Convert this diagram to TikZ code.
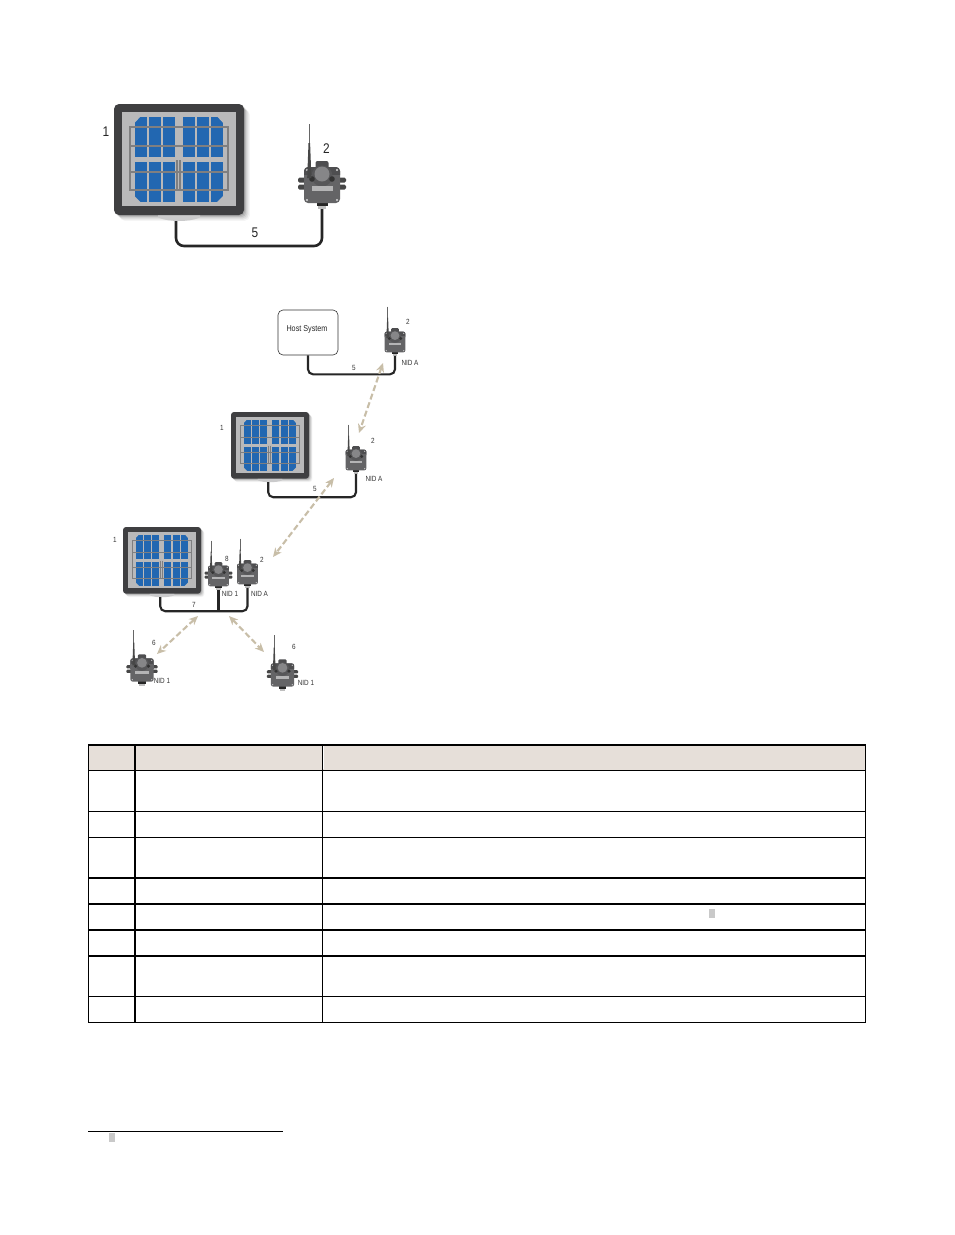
\documentclass[tikz,border=0pt]{standalone}
\usepackage{fontspec}
\setmainfont[FakeStretch=0.85]{Liberation Sans}
\usetikzlibrary{arrows.meta}
\definecolor{frameDark}{HTML}{3F3F41}
\definecolor{panelGray}{HTML}{B9B9BA}
\definecolor{cellBlue}{HTML}{2267B1}
\definecolor{railGray}{HTML}{7F7F80}
\definecolor{bodyGray}{HTML}{646466}
\definecolor{topGray}{HTML}{4E4E50}
\definecolor{domeGray}{HTML}{868688}
\definecolor{barGray}{HTML}{B4B4B5}
\definecolor{linkTan}{HTML}{C8BEA8}
\definecolor{headFill}{HTML}{E6DFD9}
\definecolor{maskGray}{HTML}{C9C9C9}
\tikzset{
  cable/.style={draw=black!85,line width=2.6pt,rounded corners=8pt},
  smallcable/.style={draw=black!85,line width=2.1pt,rounded corners=5pt},
  radio/.style={draw=linkTan,line width=2.1pt,dash pattern=on 6pt off 3pt,{Stealth[length=9pt,width=8pt]}-{Stealth[length=9pt,width=8pt]}},
  lbl/.style={inner sep=0pt,text=black!80,font=\fontsize{7.5}{8}\selectfont},
  biglbl/.style={inner sep=0pt,text=black!85,font=\fontsize{14}{15}\selectfont},
  thinrule/.style={line width=.9pt},
  thickrule/.style={line width=1.6pt},
}
% name, x, y, scale
\newcommand{\solarpanel}[4]{%
  \begin{scope}[shift={(#2,#3)},scale=#4]
    \foreach \k/\o in {1/.12,2.2/.10,3.4/.08,4.6/.06,5.8/.04}
      \fill[black,opacity=\o,rounded corners=#4*5pt] (\k,\k) rectangle (130+\k,111+\k);
    \fill[panelGray!75,rounded corners=1pt] (44,110) -- (86,110) -- (86,113.5) .. controls (75,118) and (55,118) .. (44,113.5) -- cycle;
    \coordinate (#1) at (62,117);
    \fill[frameDark,rounded corners=#4*5pt] (0,0) rectangle (130,111);
    \fill[panelGray] (8,8) rectangle (122,102);
    \foreach \a in {21,35,49,69,83,97}
      \foreach \b/\c in {12.7/52.7,58/98}
        \fill[cellBlue] (\a,\b) rectangle (\a+11.7,\c);
    \fill[panelGray] (20.5,12) -- (27,12) -- (20.5,19) -- cycle;
    \fill[panelGray] (109.2,12) -- (102.7,12) -- (109.2,19) -- cycle;
    \fill[panelGray] (20.5,98.5) -- (27,98.5) -- (20.5,92) -- cycle;
    \fill[panelGray] (109.2,98.5) -- (102.7,98.5) -- (109.2,92) -- cycle;
    \draw[railGray,line width=#4*1.7pt] (16,23.3) rectangle (113.7,86);
    \draw[railGray,line width=#4*1.7pt] (16,41.7) -- (113.7,41.7) (16,67.7) -- (113.7,67.7);
    \draw[railGray,line width=#4*1.7pt] (63.3,56) -- (63.3,86) (66,56) -- (66,86);
  \end{scope}}
% device body: name, x, y, scale
\newcommand{\fielddevice}[4]{%
  \begin{scope}[shift={(#2,#3)},scale=#4]
    \fill[topGray,rounded corners=#4*2pt] (-6.5,-24) rectangle (6.5,-16);
    \fill[black!85] (-5.5,17) rectangle (5.5,21);
    \fill[black!25] (-4,21) rectangle (4,24);
    \coordinate (#1) at (0,24);
    \fill[bodyGray,rounded corners=#4*4pt] (-18,-18) rectangle (18,18);
    \fill[topGray,rounded corners=#4*4pt] (-18,-18) rectangle (18,-6);
    \fill[bodyGray] (-18,-10) rectangle (18,-1);
    \fill[topGray!60!bodyGray] (0,-9) circle (10.5);
    \fill[domeGray] (0,-11) circle (7.5);
    \fill[barGray] (-10.5,1.3) rectangle (10.5,5.7);
    \fill[black!80] (-10,-6) circle (2.8) (10,-6) circle (2.8);
    \foreach \p/\q in {-15/-15,15/-15,-15/15,15/15}
      \fill[black!15] (\p,\q) circle (1.1);
    \draw[black!60,line width=#4*1.3pt] (-12.7,-61) -- (-12.7,-40);
    \fill[black!72] (-13.5,-42) -- (-11.9,-42) -- (-10.6,-7) -- (-14.8,-7) -- cycle;
  \end{scope}}
\newcommand{\deviceears}[3]{%
  \begin{scope}[shift={(#1,#2)},scale=#3]
    \fill[black!72,rounded corners=#3*1.5pt] (-24,-7.5) rectangle (24,-2.5);
    \fill[black!72,rounded corners=#3*1.5pt] (-24,-.5) rectangle (24,4.5);
  \end{scope}}
\begin{document}
\begin{tikzpicture}[x=1pt,y=-1pt]
\useasboundingbox (0,0) rectangle (954,1235);
\fill[white] (0,0) rectangle (954,1235);

% --- top example
\solarpanel{panA}{114}{104}{1}
\deviceears{322}{185}{1}
\fielddevice{devA}{322}{185}{1}
\draw[cable] (panA) -- ++(0,25) -| (devA);
\node[biglbl] (l1) at (106,132) {1};
\node[biglbl] (l2) at (326.5,149) {2};
\node[biglbl] (l3) at (255,233) {5};

% --- host chain
\node[draw=black!80,line width=.6pt,rounded corners=5pt,minimum width=60pt,minimum height=45pt,inner sep=0pt] (host) at (308,332.5) {};
\node[inner sep=0pt,text=black!85,font=\fontsize{8.5}{9}\selectfont] (hostlbl) at (307,329) {Host System};
\fielddevice{devB}{395}{342}{.58}
\draw[smallcable] (host.south) -- ++(0,19) -| (devB);
\node[lbl] (l4) at (408,322) {2};
\node[lbl] (l5) at (410,363) {NID A};
\node[lbl] (l6) at (354,368) {5};

\solarpanel{panB}{231}{412}{.6}
\fielddevice{devC}{356}{460}{.58}
\draw[smallcable] (panB) -- ++(0,15) -| (devC);
\node[lbl] (l7) at (222,428) {1};
\node[lbl] (l8) at (373,441) {2};
\node[lbl] (l9) at (374,479) {NID A};
\node[lbl] (l10) at (315,489) {5};

\solarpanel{panC}{123}{527}{.6}
\deviceears{218.5}{576}{.58}
\fielddevice{devD}{218.5}{576}{.58}
\fielddevice{devE}{247.5}{574}{.58}
\coordinate (busT) at (218.5,612);
\draw[smallcable] (panC) -- ++(0,14) -| (devE);
\draw[smallcable,rounded corners=0pt] (devD) -- (busT);
\node[lbl] (l11) at (115,540) {1};
\node[lbl] (l12) at (227,558.5) {8};
\node[lbl] (l13) at (262,559.5) {2};
\node[lbl] (l14) at (230,594) {NID 1};
\node[lbl] (l15) at (259.5,594) {NID A};
\node[lbl] (l16) at (194,605) {7};

\deviceears{142}{670}{.65}
\fielddevice{devF}{142}{670}{.65}
\deviceears{282.5}{675}{.65}
\fielddevice{devG}{282.5}{675}{.65}
\node[lbl] (l17) at (154,643) {6};
\node[lbl] (l18) at (162,681) {NID 1};
\node[lbl] (l19) at (294,647) {6};
\node[lbl] (l20) at (306,683) {NID 1};

% --- radio links
\coordinate (ra1) at (383,363); \coordinate (ra2) at (359,433);
\coordinate (rb1) at (334,478); \coordinate (rb2) at (273,557);
\coordinate (rc1) at (198,616); \coordinate (rc2) at (157,654);
\coordinate (rd1) at (229,616); \coordinate (rd2) at (264,652);
\draw[radio] (ra1) -- (ra2);
\draw[radio] (rb1) -- (rb2);
\draw[radio] (rc1) -- (rc2);
\draw[radio] (rd1) -- (rd2);

% --- table
\fill[headFill] (88,745) rectangle (865.5,770);
\draw[white,line width=.8pt] (323.5,746) -- (323.5,769);
\draw[thickrule] (88,745) -- (865.5,745);
\foreach \r in {770,811,837,996,1022}
  \draw[thinrule] (88,\r) -- (865.5,\r);
\foreach \r in {878,904,930,956}
  \draw[thickrule] (88,\r) -- (865.5,\r);
\draw[thinrule] (88.5,745) -- (88.5,1022);
\draw[line width=2pt] (134.5,745) -- (134.5,1022);
\draw[thinrule] (322.5,745) -- (322.5,1022);
\draw[thinrule] (865.5,745) -- (865.5,1022);
\fill[maskGray] (709,909) rectangle (715,918);

% --- footnote
\draw[thinrule] (88,1131.5) -- (283,1131.5);
\fill[maskGray] (109,1133) rectangle (115,1142);
\end{tikzpicture}
\end{document}
